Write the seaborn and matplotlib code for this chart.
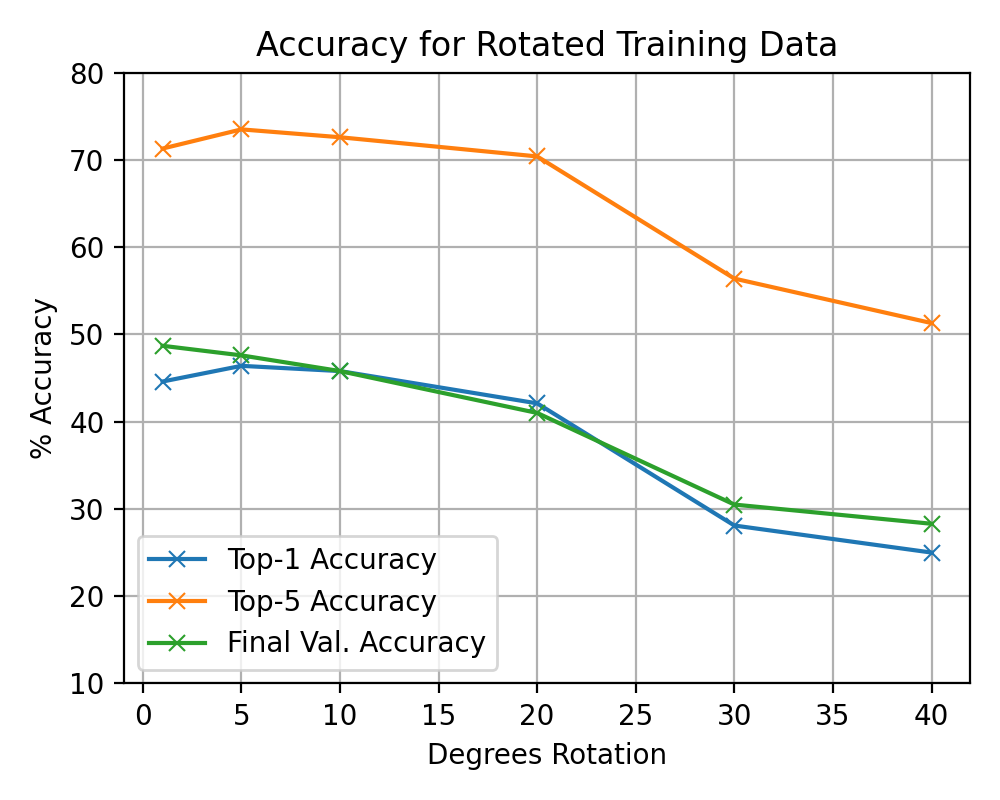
import matplotlib
matplotlib.use("Agg")
import matplotlib.pyplot as plt
import pandas as pd
import seaborn as sns

degrees = [1, 5, 10, 20, 30, 40]
top1 = [44.6, 46.4, 45.8, 42.1, 28.1, 25.0]
top5 = [71.3, 73.5, 72.6, 70.4, 56.4, 51.3]
final_val = [48.7, 47.6, 45.8, 41.0, 30.5, 28.3]

df = pd.DataFrame({
    'deg': degrees * 3,
    'acc': top1 + top5 + final_val,
    'series': ['Top-1 Accuracy'] * 6 + ['Top-5 Accuracy'] * 6 + ['Final Val. Accuracy'] * 6,
})

fig, ax = plt.subplots(figsize=(5, 4), dpi=200)
palette = ['#1f77b4', '#ff7f0e', '#2ca02c']
for (name, grp), c in zip(df.groupby('series', sort=False), palette):
    sns.lineplot(x='deg', y='acc', data=grp, ax=ax, color=c, marker='x',
                 markeredgecolor=c, label=name)

ax.set_title('Accuracy for Rotated Training Data')
ax.set_xlabel('Degrees Rotation')
ax.set_ylabel('% Accuracy')
ax.set_ylim(10, 80)
ax.set_xticks(range(0, 41, 5))
ax.grid(True)
ax.legend(loc='lower left')
fig.tight_layout()
fig.savefig('out.png')
